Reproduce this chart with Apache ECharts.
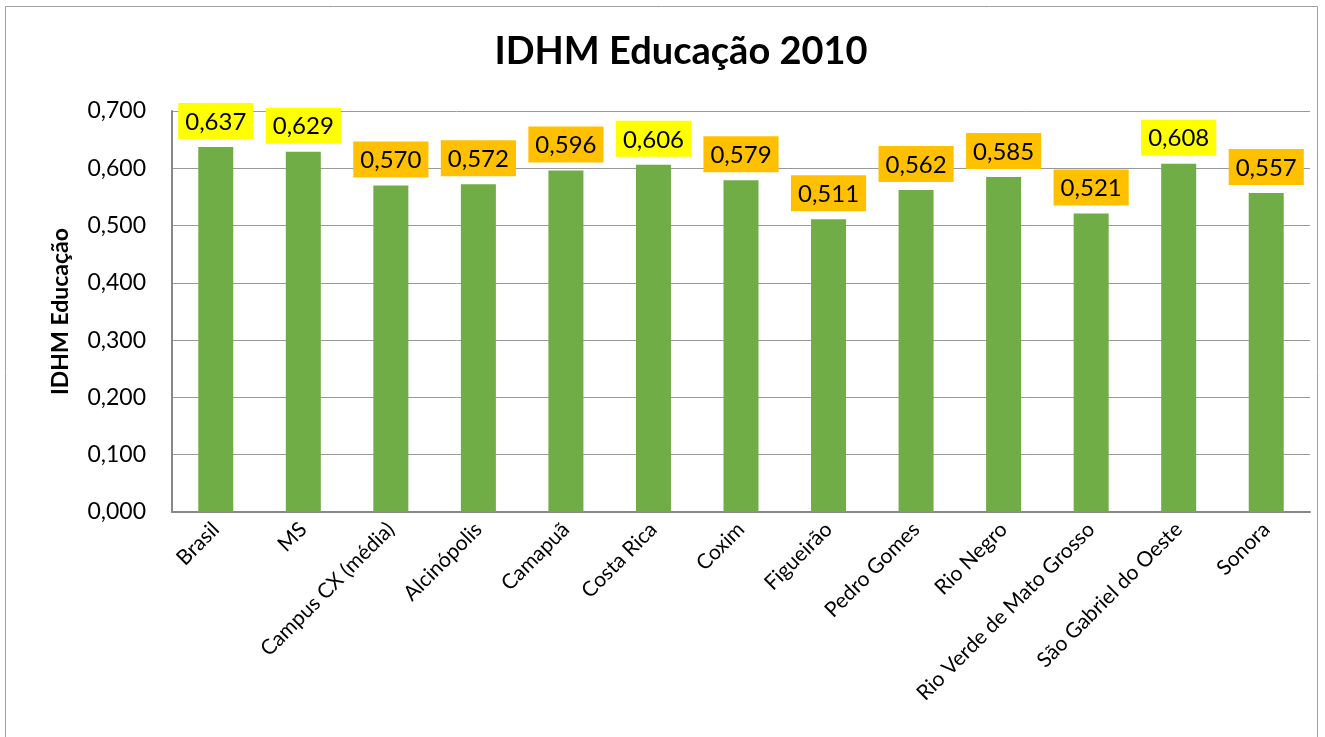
<!DOCTYPE html>
<html><head><meta charset="utf-8">
<script src="https://cdn.jsdelivr.net/npm/echarts@6/dist/echarts.min.js"></script>
<style>html,body{margin:0;padding:0;background:#fff}#c{width:1325px;height:737px}</style>
</head><body><div id="c"></div>
<script>
const categories = ["Brasil","MS","Campus CX (média)","Alcinópolis","Camapuã","Costa Rica","Coxim","Figueirão","Pedro Gomes","Rio Negro","Rio Verde de Mato Grosso","São Gabriel do Oeste","Sonora"];
const values = [0.637,0.629,0.570,0.572,0.596,0.606,0.579,0.511,0.562,0.585,0.521,0.608,0.557];
const yTicks = [0,0.1,0.2,0.3,0.4,0.5,0.6,0.7];
const fmt = v => v.toFixed(3).replace('.', ',');
const chart = echarts.init(document.getElementById('c'));
chart.setOption({
  animation:false,
  title:{text:'IDHM Educação 2010',left:676,top:28,textAlign:'center',textStyle:{fontFamily:'Lato',fontWeight:'bold',fontSize:38,color:'#000'}},
  graphic:[{type:'rect',shape:{x:5.5,y:6.5,width:1312,height:740},style:{fill:null,stroke:'#a0a0a0',lineWidth:1},silent:true}],
  grid:{left:172,right:15,top:111,bottom:225,containLabel:false},
  xAxis:{type:'category',data:categories,
    axisLine:{lineStyle:{color:'#888',width:2}},axisTick:{show:false},
    axisLabel:{rotate:45,interval:0,fontFamily:'Lato',fontSize:21,color:'#000',margin:14}},
  yAxis:{type:'value',min:0,max:0.7,interval:0.1,
    name:'IDHM Educação',nameLocation:'middle',nameGap:100,nameRotate:90,
    nameTextStyle:{fontFamily:'Lato',fontWeight:'bold',fontSize:23,color:'#000'},
    axisLine:{show:true,lineStyle:{color:'#888',width:2}},axisTick:{show:false},
    splitLine:{lineStyle:{color:'#999',width:1}},
    axisLabel:{formatter:v=>fmt(v),fontFamily:'Lato',fontSize:23,color:'#000',margin:26}},
  series:[{type:'bar',data:values.map(v=>({value:v,label:{backgroundColor:v>=0.6?'#FFFF00':'#FFC000'}})),
    barWidth:'40%',itemStyle:{color:'#70AD47'},
    label:{show:true,position:'top',distance:8,formatter:p=>fmt(p.value),fontFamily:'Lato',fontSize:24,color:'#000',padding:[7,7,5,7]}}]
});
</script></body></html>
